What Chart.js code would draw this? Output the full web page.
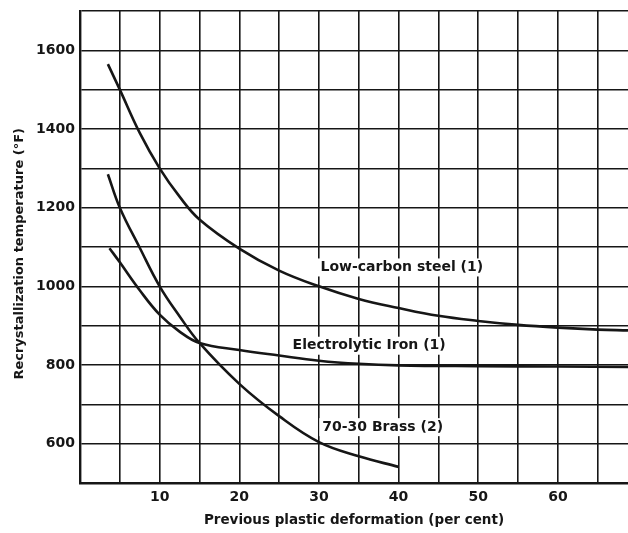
<!DOCTYPE html>
<html>
<head>
<meta charset="utf-8">
<script src="https://cdn.jsdelivr.net/npm/chart.js@4.4.1/dist/chart.umd.min.js"></script>
<style>
  html, body { margin: 0; padding: 0; background: #fff; }
  #wrap { width: 628px; height: 533px; }
</style>
</head>
<body>
<div id="wrap"><canvas id="recrystChart" width="628" height="533"></canvas></div>
<script>
  // deformation (per cent) and recrystallization temperature (deg F)
  const steelDeform = [3.5, 5, 7.5, 10, 12.5, 15, 20, 25, 30, 35, 40, 45, 50, 55, 60, 65, 68.8];
  const steelTemp = [1565, 1500, 1390, 1300, 1228, 1170, 1096, 1040, 1000, 968, 945, 925, 912, 902, 895, 890, 888];

  const ironDeform = [3.7, 5, 7.5, 10, 12.5, 15, 20, 25, 30, 35, 40, 50, 60, 68.8];
  const ironTemp = [1097, 1061, 990, 928, 885, 856, 838, 824, 811, 803, 799, 797, 796, 795];

  const brassDeform = [3.5, 5, 7.5, 10, 12.5, 15, 20, 25, 30, 35, 40];
  const brassTemp = [1285, 1200, 1098, 1000, 924, 856, 752, 670, 604, 568, 541];

  const xTickLabels = [10, 20, 30, 40, 50, 60];
  const yTickLabels = [600, 800, 1000, 1200, 1400, 1600];

  const curveNames = ['Low-carbon steel (1)', 'Electrolytic Iron (1)', '70-30 Brass (2)'];
  const nameDeform = [40.4, 36.3, 38.0];
  const nameTemp = [1048, 849, 642];

  const ink = '#161616';
  const fontFamily = '"DejaVu Sans", sans-serif';

  const toPoints = function(xs, ys){
    return xs.map((x, i) => ({ x: x, y: ys[i] }));
  };

  const makeCurve = function(label, xs, ys){
    return {
      label: label,
      data: toPoints(xs, ys),
      borderColor: ink,
      borderWidth: 2.6,
      pointRadius: 0,
      fill: false,
      tension: 0.4,
    };
  };

  // curve names sit on white boxes that break the grid lines
  const curveLabels = {
    id: 'curveLabels',
    beforeDatasetsDraw(chart){
      const ctx = chart.ctx;
      const xScale = chart.scales.x;
      const yScale = chart.scales.y;
      ctx.save();
      ctx.font = 'bold 14px ' + fontFamily;
      ctx.textAlign = 'center';
      ctx.textBaseline = 'middle';
      curveNames.forEach((name, i) => {
        const px = xScale.getPixelForValue(nameDeform[i]);
        const py = yScale.getPixelForValue(nameTemp[i]);
        const w = ctx.measureText(name).width;
        ctx.fillStyle = '#fff';
        ctx.fillRect(px - w / 2 - 3, py - 9, w + 6, 18);
        ctx.fillStyle = ink;
        ctx.fillText(name, px, py);
      });
      ctx.restore();
    }
  };

  const ctx = document.getElementById('recrystChart').getContext('2d');
  // eslint-disable-next-line no-undef, no-unused-vars
  const recrystChart = new Chart(ctx, {
    type: 'line',
    data: {
      datasets: [
        makeCurve(curveNames[0], steelDeform, steelTemp),
        makeCurve(curveNames[1], ironDeform, ironTemp),
        makeCurve(curveNames[2], brassDeform, brassTemp),
      ]
    },
    options: {
      responsive: false,
      animation: false,
      layout: {
        padding: { top: 11, right: 0, left: 0, bottom: 0 },
      },
      plugins: {
        legend: { display: false },
        tooltip: { enabled: false },
      },
      scales: {
        x: {
          type: 'linear',
          min: 0,
          max: 68.8,
          afterFit: (scale) => { scale.height = 50; },
          grid: { color: ink, lineWidth: 1.6, drawTicks: false },
          border: { color: ink, width: 2.4 },
          ticks: {
            stepSize: 5,
            includeBounds: false,
            autoSkip: false,
            maxRotation: 0,
            padding: 6,
            color: ink,
            font: { family: fontFamily, size: 14, weight: 'bold' },
            callback: (value) => xTickLabels.includes(value) ? String(value) : '',
          },
          title: {
            display: true,
            text: 'Previous plastic deformation (per cent)',
            color: ink,
            font: { family: fontFamily, size: 13.5, weight: 'bold' },
            padding: { top: 0, bottom: 4 },
          },
        },
        y: {
          min: 500,
          max: 1700,
          afterFit: (scale) => {
            scale.width = 80;
            scale.paddingTop = 0;
            scale.paddingBottom = 0;
          },
          grid: { color: ink, lineWidth: 1.6, drawTicks: false },
          border: { color: ink, width: 2.4 },
          ticks: {
            stepSize: 100,
            autoSkip: false,
            padding: 5,
            color: ink,
            font: { family: fontFamily, size: 14, weight: 'bold' },
            callback: (value) => yTickLabels.includes(value) ? String(value) : '',
          },
          title: {
            display: true,
            // trailing spaces nudge the rotated title a little lower
            text: 'Recrystallization temperature (°F)   ',
            color: ink,
            font: { family: fontFamily, size: 13, weight: 'bold' },
            padding: { top: 12, bottom: 0 },
          },
        },
      },
    },
    plugins: [curveLabels],
  });
</script>
</body>
</html>
